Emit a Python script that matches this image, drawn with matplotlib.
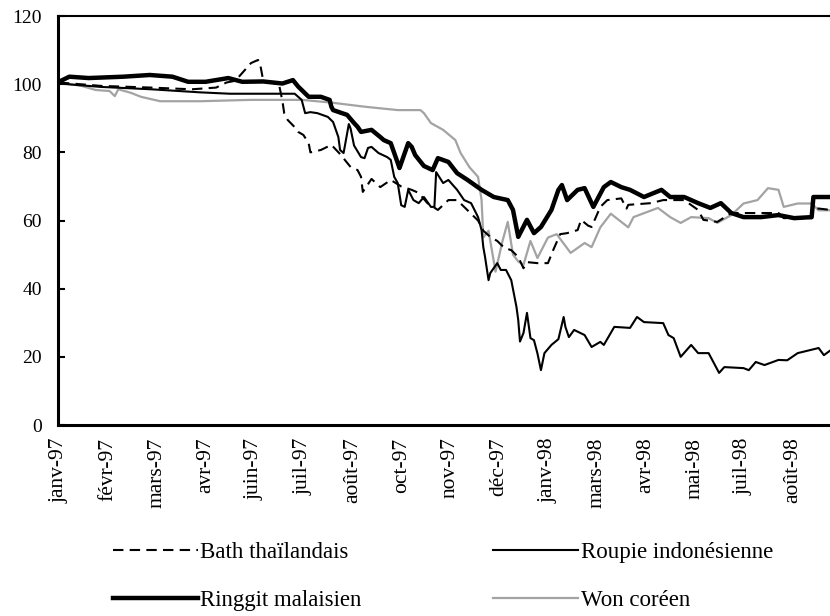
import matplotlib
matplotlib.use("Agg")
import matplotlib.pyplot as plt

plt.rcParams['font.family'] = ['Liberation Serif', 'DejaVu Serif']

# business-day index since 2 Jan 1997 -> index value
month_labels = ["janv-97", "févr-97", "mars-97", "avr-97", "juin-97", "juil-97",
                "août-97", "oct-97", "nov-97", "déc-97", "janv-98", "mars-98",
                "avr-98", "mai-98", "juil-98", "août-98"]
label_step = 28
n_days = 442

bath_x = [0, 24, 53, 76, 90, 96, 101, 105, 110, 114, 115, 117, 121, 126, 128, 129,
          131, 135, 137, 140, 143, 144, 150, 156, 161, 167, 171, 173, 174, 179, 184,
          190, 196, 202, 206, 211, 217, 223, 228, 234, 240, 243, 247, 251, 255, 259,
          263, 266, 268, 274, 280, 283, 287, 291, 297, 299, 303, 305, 310, 314, 322,
          325, 326, 339, 346, 358, 366, 369, 377, 385, 396, 412, 415, 431, 432, 442]
bath_y = [100.5, 99.5, 99.0, 98.5, 99.0, 100.5, 101.0, 103.3, 106.2, 107.1, 106.5,
          101.0, 100.5, 100.0, 95.0, 91.5, 89.5, 87.4, 86.0, 85.1, 82.7, 80.0, 80.7,
          82.2, 79.5, 75.7, 74.8, 72.8, 68.4, 72.2, 69.8, 71.9, 70.0, 69.0, 68.1, 65.1,
          63.1, 66.0, 66.0, 63.0, 60.0, 57.0, 55.2, 54.0, 52.0, 51.3, 49.3, 46.0, 47.8,
          47.5, 47.5, 51.3, 56.0, 56.3, 57.2, 60.2, 58.5, 58.1, 64.0, 66.0, 66.5, 63.5,
          64.6, 65.1, 66.0, 66.0, 63.1, 60.2, 59.6, 62.2, 62.2, 62.2, 60.7, 60.7, 63.7,
          63.1]

roupie_x = [0, 24, 53, 81, 98, 135, 139, 141, 144, 148, 154, 157, 160, 161, 163, 166,
            167, 169, 173, 175, 177, 179, 183, 188, 190, 192, 194, 196, 198, 200, 203,
            206, 209, 213, 215, 216, 220, 223, 228, 232, 236, 240, 242, 243, 244, 246,
            247, 251, 253, 256, 259, 262, 263, 264, 266, 268, 270, 272, 274, 276, 278,
            282, 286, 289, 290, 292, 295, 301, 305, 310, 312, 318, 327, 331, 335, 346,
            349, 352, 356, 362, 366, 372, 375, 378, 381, 392, 395, 399, 404, 412, 417,
            423, 435, 438, 442]
roupie_y = [100.2, 99.2, 98.5, 97.6, 97.2, 97.2, 95.4, 91.5, 91.8, 91.5, 90.4, 88.9,
            84.5, 80.7, 79.8, 88.3, 87.0, 82.0, 78.6, 78.3, 81.3, 81.6, 79.8, 78.6, 77.8,
            72.8, 71.0, 64.5, 64.0, 69.0, 66.0, 65.1, 66.9, 64.0, 64.0, 74.2, 71.0, 71.9,
            69.0, 66.0, 65.1, 61.0, 57.2, 52.2, 49.3, 42.5, 44.6, 47.5, 45.5, 45.5, 42.5,
            34.6, 30.8, 24.5, 27.0, 32.9, 25.5, 24.9, 21.0, 16.1, 21.1, 23.5, 25.2, 31.7,
            28.8, 25.8, 27.9, 26.4, 22.9, 24.4, 23.5, 28.8, 28.5, 31.7, 30.2, 29.9, 26.4,
            25.5, 20.0, 23.5, 21.1, 21.1, 18.2, 15.3, 17.0, 16.7, 16.1, 18.5, 17.6, 19.1,
            19.0, 21.1, 22.6, 20.5, 22.0]

ringgit_x = [0, 6, 17, 37, 52, 65, 74, 84, 97, 105, 117, 128, 134, 137, 140, 143, 150,
             155, 156, 157, 165, 169, 171, 173, 179, 184, 186, 190, 194, 195, 200, 202,
             204, 209, 214, 217, 223, 228, 234, 242, 249, 257, 260, 263, 268, 272, 276,
             282, 286, 288, 291, 297, 301, 306, 312, 316, 322, 327, 335, 345, 350, 358,
             366, 373, 379, 385, 392, 402, 412, 421, 431, 432, 442]
ringgit_y = [100.7, 102.2, 101.8, 102.2, 102.7, 102.2, 100.7, 100.7, 101.8, 100.7, 100.8,
             100.2, 101.2, 99.3, 97.8, 96.3, 96.3, 95.4, 93.4, 92.4, 91.0, 88.6, 87.5,
             86.0, 86.6, 84.5, 83.6, 82.7, 76.9, 75.4, 82.7, 81.6, 79.2, 76.0, 74.8, 78.3,
             77.2, 73.9, 71.9, 69.0, 66.9, 66.0, 63.1, 55.2, 60.2, 56.3, 58.1, 63.1, 69.0,
             70.4, 66.0, 69.0, 69.5, 64.0, 69.8, 71.3, 69.8, 69.0, 66.9, 69.0, 66.9, 66.9,
             65.1, 63.7, 65.1, 62.2, 61.0, 61.0, 61.6, 60.7, 61.0, 66.9, 66.9]

won_x = [0, 13, 21, 29, 32, 34, 41, 47, 58, 81, 110, 139, 156, 175, 194, 207, 209, 213,
         220, 227, 230, 235, 240, 242, 243, 246, 250, 254, 257, 260, 263, 266, 270, 274,
         280, 285, 293, 301, 305, 310, 316, 326, 329, 343, 350, 356, 362, 372, 377, 385,
         392, 400, 406, 412, 415, 423, 431, 435, 442]
won_y = [100.5, 99.5, 98.3, 98.0, 96.5, 98.5, 97.5, 96.3, 95.0, 95.0, 95.4, 95.4, 94.6,
         93.4, 92.4, 92.4, 91.5, 88.6, 86.6, 83.6, 79.8, 75.7, 72.8, 66.0, 55.0, 57.0,
         45.0, 54.0, 59.6, 50.0, 48.0, 47.0, 54.0, 49.0, 55.0, 56.0, 50.5, 53.4, 52.2,
         58.0, 62.0, 58.0, 61.0, 63.7, 61.0, 59.3, 61.0, 60.7, 59.3, 61.6, 65.0, 66.0,
         69.5, 69.0, 64.0, 65.0, 65.0, 63.0, 63.0]

fig = plt.figure(figsize=(8.3, 6.16), dpi=100)
ax = fig.add_axes([0.0699, 0.310, 0.9301, 0.664])

ax.plot(won_x, won_y, color="0.64", lw=1.6, label="Won coréen", zorder=2)
ax.plot(bath_x, bath_y, color="k", lw=1.5, linestyle=(0, (5, 3)),
        label="Bath thaïlandais", zorder=3)
ax.plot(roupie_x, roupie_y, color="k", lw=1.5, label="Roupie indonésienne", zorder=3)
ax.plot(ringgit_x, ringgit_y, color="k", lw=3.2, label="Ringgit malaisien", zorder=4)

ax.set_xlim(-0.5, n_days - 0.5)
ax.set_ylim(0, 120)
ax.set_yticks(range(0, 121, 20))
ax.set_xticks(range(0, label_step * len(month_labels), label_step))
ax.set_xticklabels(month_labels, rotation=90)
ax.tick_params(axis='y', direction='in', length=5, width=1.5, labelsize=14, pad=11.5)
ax.tick_params(axis='x', length=0, labelsize=15.5, pad=9)

for s in ['left', 'bottom']:
    ax.spines[s].set_linewidth(2.2)
ax.spines['top'].set_linewidth(1.5)
ax.spines['right'].set_visible(False)

h, l = ax.get_legend_handles_labels()
order = [1, 3, 2, 0]
fig.legend([h[i] for i in order], [l[i] for i in order], ncol=2, frameon=False,
           loc='upper left', bbox_to_anchor=(0.122, 0.138), fontsize=16.5,
           handlelength=3.7, handletextpad=0.12, columnspacing=5.75,
           labelspacing=1.15, borderpad=0)

fig.savefig("out.png", dpi=100)
